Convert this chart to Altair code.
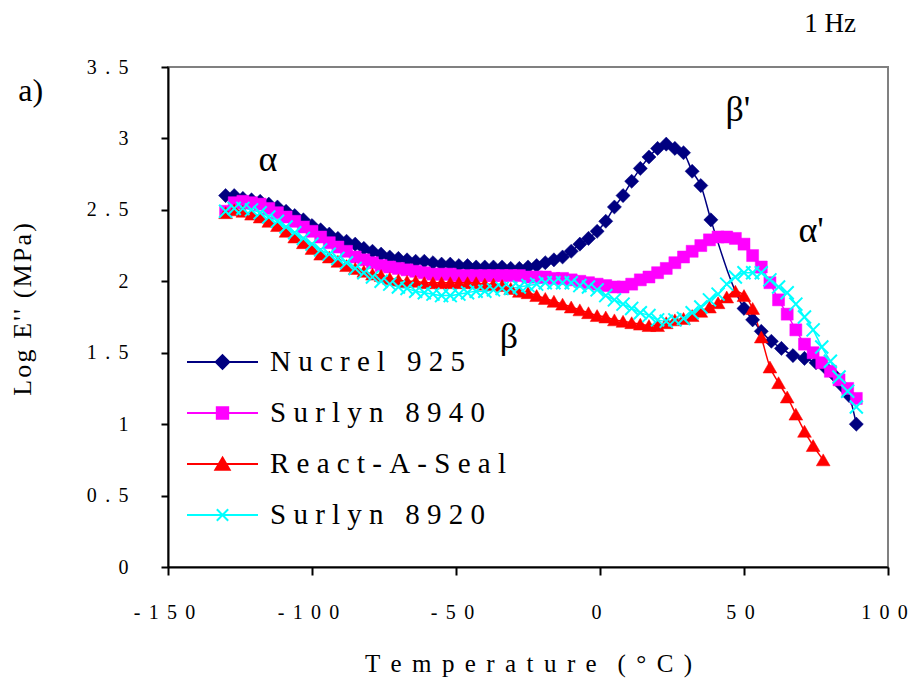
import altair as alt
import pandas as pd

NB = "\u00a0"
GAP = "\u00a0\u2006"
HAIR = "\u200a"

series_names = ["Nucrel 925", "Surlyn 8940", "React-A-Seal", "Surlyn 8920"]
series_colors = ["#000080", "#FF00FF", "#FF0000", "#00FFFF"]

nucrel_t = [-130, -127, -124, -121, -118, -115, -112, -109, -106, -103,
            -100, -97, -94, -91, -88, -85, -82, -79, -76, -73,
            -70, -67, -64, -61, -58, -55, -52, -49, -46, -43,
            -40, -37, -34, -31, -28, -25, -22, -19, -16, -13,
            -10, -7, -4, -1, 2, 5, 8, 11, 14, 17,
            20, 23, 26, 29, 32, 35, 38.5, 50, 53, 56,
            59.5, 63, 67, 71, 75, 78, 81, 84, 86.5, 89]
nucrel_e = [2.60, 2.60, 2.58, 2.57, 2.56, 2.54, 2.52, 2.49, 2.46, 2.43,
            2.39, 2.36, 2.33, 2.30, 2.28, 2.26, 2.23, 2.21, 2.19, 2.17,
            2.16, 2.15, 2.14, 2.14, 2.13, 2.12, 2.12, 2.11, 2.11, 2.10,
            2.10, 2.10, 2.10, 2.09, 2.09, 2.10, 2.11, 2.13, 2.15, 2.17,
            2.21, 2.26, 2.30, 2.35, 2.42, 2.52, 2.60, 2.70, 2.79, 2.87,
            2.93, 2.96, 2.93, 2.90, 2.77, 2.67, 2.43, 1.81, 1.73, 1.65,
            1.58, 1.53, 1.48, 1.46, 1.43, 1.40, 1.35, 1.27, 1.20, 1.00]

s8940_t = [-130, -127, -124, -121, -118, -115, -112, -109, -106, -103,
           -100, -97, -94, -91, -88, -85, -82, -79, -76, -73,
           -70, -67, -64, -61, -58, -55, -52, -49, -46, -43,
           -40, -37, -34, -31, -28, -25, -22, -19, -16, -13,
           -10, -7, -4, -1, 2, 5, 8, 11, 14, 17,
           20, 23, 26, 29, 32, 35, 38, 41, 44, 47,
           50, 53, 56, 59, 62, 65, 68, 71, 74, 77,
           80, 83, 86, 89]
s8940_e = [2.49, 2.55, 2.56, 2.55, 2.54, 2.51, 2.48, 2.45, 2.42, 2.38,
           2.35, 2.31, 2.27, 2.24, 2.21, 2.17, 2.15, 2.13, 2.11, 2.10,
           2.09, 2.08, 2.07, 2.06, 2.05, 2.05, 2.05, 2.04, 2.04, 2.04,
           2.04, 2.04, 2.04, 2.04, 2.04, 2.03, 2.03, 2.03, 2.02, 2.02,
           2.01, 2.00, 1.99, 1.98, 1.97, 1.96, 1.96, 1.98, 2.01, 2.03,
           2.06, 2.09, 2.13, 2.17, 2.21, 2.25, 2.29, 2.31, 2.31, 2.30,
           2.26, 2.18, 2.10, 1.99, 1.87, 1.77, 1.66, 1.56, 1.50, 1.43,
           1.37, 1.31, 1.25, 1.18]

react_t = [-130, -127, -124, -121, -118, -115, -112, -109, -106, -103,
           -100, -97, -94, -91, -88, -85, -82, -79, -76, -73,
           -70, -67, -64, -61, -58, -55, -52, -49, -46, -43,
           -40, -37, -34, -31, -28, -25, -22, -19, -16, -13,
           -10, -7, -4, -1, 2, 5, 8, 11, 14, 17,
           20, 23, 26, 29, 32, 35, 38, 41, 44, 47,
           50, 53, 56, 59, 62, 65, 68, 71, 74, 77.5]
react_e = [2.48, 2.50, 2.49, 2.47, 2.45, 2.42, 2.39, 2.35, 2.31, 2.27,
           2.23, 2.19, 2.17, 2.14, 2.11, 2.09, 2.07, 2.05, 2.04, 2.02,
           2.01, 2.00, 2.00, 1.99, 1.99, 1.99, 1.99, 1.99, 1.99, 1.99,
           1.98, 1.98, 1.97, 1.95, 1.93, 1.92, 1.90, 1.88, 1.86, 1.84,
           1.82, 1.80, 1.78, 1.76, 1.75, 1.73, 1.72, 1.71, 1.70, 1.69,
           1.69, 1.71, 1.73, 1.74, 1.76, 1.79, 1.82, 1.85, 1.89, 1.93,
           1.90, 1.81, 1.61, 1.40, 1.29, 1.19, 1.07, 0.95, 0.85, 0.75]

s8920_t = [-130, -127, -124, -121, -118, -115, -112, -109, -106, -103,
           -100, -97, -94, -91, -88, -85, -82, -79, -76, -73,
           -70, -67, -64, -61, -58, -55, -52, -49, -46, -43,
           -40, -37, -34, -31, -28, -25, -22, -19, -16, -13,
           -10, -7, -4, -1, 2, 5, 8, 11, 14, 17,
           20, 23, 26, 29, 32, 35, 38, 41, 44, 47,
           50, 53, 56, 59, 62, 65, 68, 71, 74, 77,
           80, 83, 86, 89]
s8920_e = [2.49, 2.51, 2.51, 2.50, 2.48, 2.45, 2.42, 2.38, 2.34, 2.30,
           2.26, 2.22, 2.19, 2.16, 2.13, 2.09, 2.06, 2.03, 2.00, 1.98,
           1.96, 1.95, 1.93, 1.92, 1.91, 1.90, 1.90, 1.91, 1.92, 1.93,
           1.93, 1.94, 1.95, 1.95, 1.96, 1.97, 1.98, 1.99, 1.99, 1.99,
           1.99, 1.97, 1.96, 1.94, 1.90, 1.87, 1.84, 1.81, 1.78, 1.76,
           1.73, 1.72, 1.73, 1.74, 1.78, 1.82, 1.87, 1.91, 1.98, 2.03,
           2.06, 2.06, 2.06, 2.01, 1.96, 1.92, 1.84, 1.75, 1.66, 1.54,
           1.44, 1.33, 1.23, 1.12]

annot_text = ["\u03b1", "\u03b2'", "\u03b1'", "\u03b2", "1 Hz", "a)"]
annot_t = [-115.3, 47.9, 73.3, -31.6, 79.9, -197.7]
annot_e = [2.85, 3.20, 2.35, 1.61, 3.80, 3.33]
annot_fs = [36, 36, 36, 36, 27, 32]

x_ticks = [-150, -100, -50, 0, 50, 100]
y_ticks = [0, 0.5, 1, 1.5, 2, 2.5, 3, 3.5]

FONT = "Liberation Serif"

frames = []
for name, ts, es in [(series_names[0], nucrel_t, nucrel_e),
                     (series_names[1], s8940_t, s8940_e),
                     (series_names[2], react_t, react_e),
                     (series_names[3], s8920_t, s8920_e)]:
    frames.append(pd.DataFrame({"temp": ts, "loge": es, "series": name}))
df = pd.concat(frames, ignore_index=True)

annot_df = pd.DataFrame({"temp": annot_t, "loge": annot_e, "label": annot_text, "fs": annot_fs})

spaced = f"join(split(toString(datum.value), ''), '{GAP}')"
x_title = GAP.join("Temperature") + GAP * 2 + GAP.join("(\u00b0C)")
y_title = HAIR.join("Log E'' (MPa)")

x_axis = alt.Axis(values=x_ticks, title=x_title, labelExpr=spaced, grid=False,
                  tickSize=8, labelPadding=27, labelOffset=-4, titleY=84, titleBaseline="top",
                  labelFontSize=20, titleFontSize=25, labelFont=FONT, titleFont=FONT,
                  titleFontWeight="normal", labelFlush=False, labelOverlap=False)
y_axis = alt.Axis(values=y_ticks, title=y_title, labelExpr=spaced, grid=False,
                  tickSize=7, labelPadding=33, titleX=-133, titleY=242,
                  labelFontSize=20, titleFontSize=26, labelFont=FONT, titleFont=FONT,
                  titleFontWeight="normal", labelFlush=False, labelOverlap=False)

x_enc = alt.X("temp:Q", scale=alt.Scale(domain=[-150, 100], nice=False, zero=False), axis=x_axis)
y_enc = alt.Y("loge:Q", scale=alt.Scale(domain=[0, 3.5], nice=False, zero=False), axis=y_axis)

base = alt.Chart(df)

xpath = "M-1,-1L1,1M-1,1L1,-1"
point_shapes = ["diamond", "square", "triangle-up", xpath]
point_sizes = [200, 144, 190, 170]

layers = []
for i, name in enumerate(series_names):
    layers.append(
        base.transform_filter(alt.datum.series == name)
        .mark_line(color=series_colors[i], strokeWidth=1.5, interpolate="monotone")
        .encode(x=x_enc, y=y_enc, order="temp:Q")
    )
for i, name in enumerate(series_names):
    if i < 3:
        props = dict(shape=point_shapes[i], filled=True, size=point_sizes[i],
                     fill=series_colors[i], stroke=series_colors[i], strokeWidth=0.5, opacity=1)
    else:
        props = dict(shape=point_shapes[i], filled=False, size=point_sizes[i],
                     stroke=series_colors[i], strokeWidth=2, opacity=1)
    layers.append(
        base.transform_filter(alt.datum.series == name).mark_point(**props).encode(x=x_enc, y=y_enc)
    )

legend_paths = [
    "M-1,0L1,0M0,-0.19L0.19,0L0,0.19L-0.19,0Z",
    "M-1,0L1,0M-0.16,-0.16L0.16,-0.16L0.16,0.16L-0.16,0.16Z",
    "M-1,0L1,0M0,-0.18L0.2,0.16L-0.2,0.16Z",
    "M-1,0L1,0M-0.16,-0.16L0.16,0.16M-0.16,0.16L0.16,-0.16",
]


def make_legend():
    return alt.Legend(title=None, orient="none", legendX=18, legendY=280,
                      symbolSize=5041, symbolStrokeWidth=2, clipHeight=30, rowPadding=21,
                      labelFontSize=29, labelFont=FONT, labelOffset=11, padding=0,
                      symbolOpacity=1, labelLimit=500, labelColor="black",
                      labelExpr=f"join(split(datum.label, ''), '{NB}')")


legend_layer = base.transform_filter("false").mark_point(filled=True, opacity=1, strokeWidth=2).encode(
    x=x_enc, y=y_enc,
    shape=alt.Shape("series:N", scale=alt.Scale(domain=series_names, range=legend_paths), legend=make_legend()),
    fill=alt.Fill("series:N", scale=alt.Scale(domain=series_names, range=series_colors), legend=make_legend()),
    stroke=alt.Stroke("series:N", scale=alt.Scale(domain=series_names, range=series_colors), legend=make_legend()),
)
layers.append(legend_layer)

text_layer = alt.Chart(annot_df).mark_text(font=FONT, baseline="middle", align="center", color="black").encode(
    x=x_enc, y=y_enc, text="label:N", size=alt.Size("fs:Q", scale=None, legend=None)
)
layers.append(text_layer)

chart = alt.layer(*layers).properties(
    width=720, height=500,
    background="white",
    autosize=alt.AutoSizeParams(type="none"),
    padding={"left": 160, "top": 59, "right": 22, "bottom": 116},
).configure_view(
    stroke="#808080", strokeWidth=2
).configure_axis(
    domainColor="black", domainWidth=2, tickColor="black", tickWidth=2,
    labelFont=FONT, titleFont=FONT, labelColor="black", titleColor="black",
    titleFontWeight="normal",
)

chart.save("out.html", embed_options={"renderer": "svg", "actions": False})
